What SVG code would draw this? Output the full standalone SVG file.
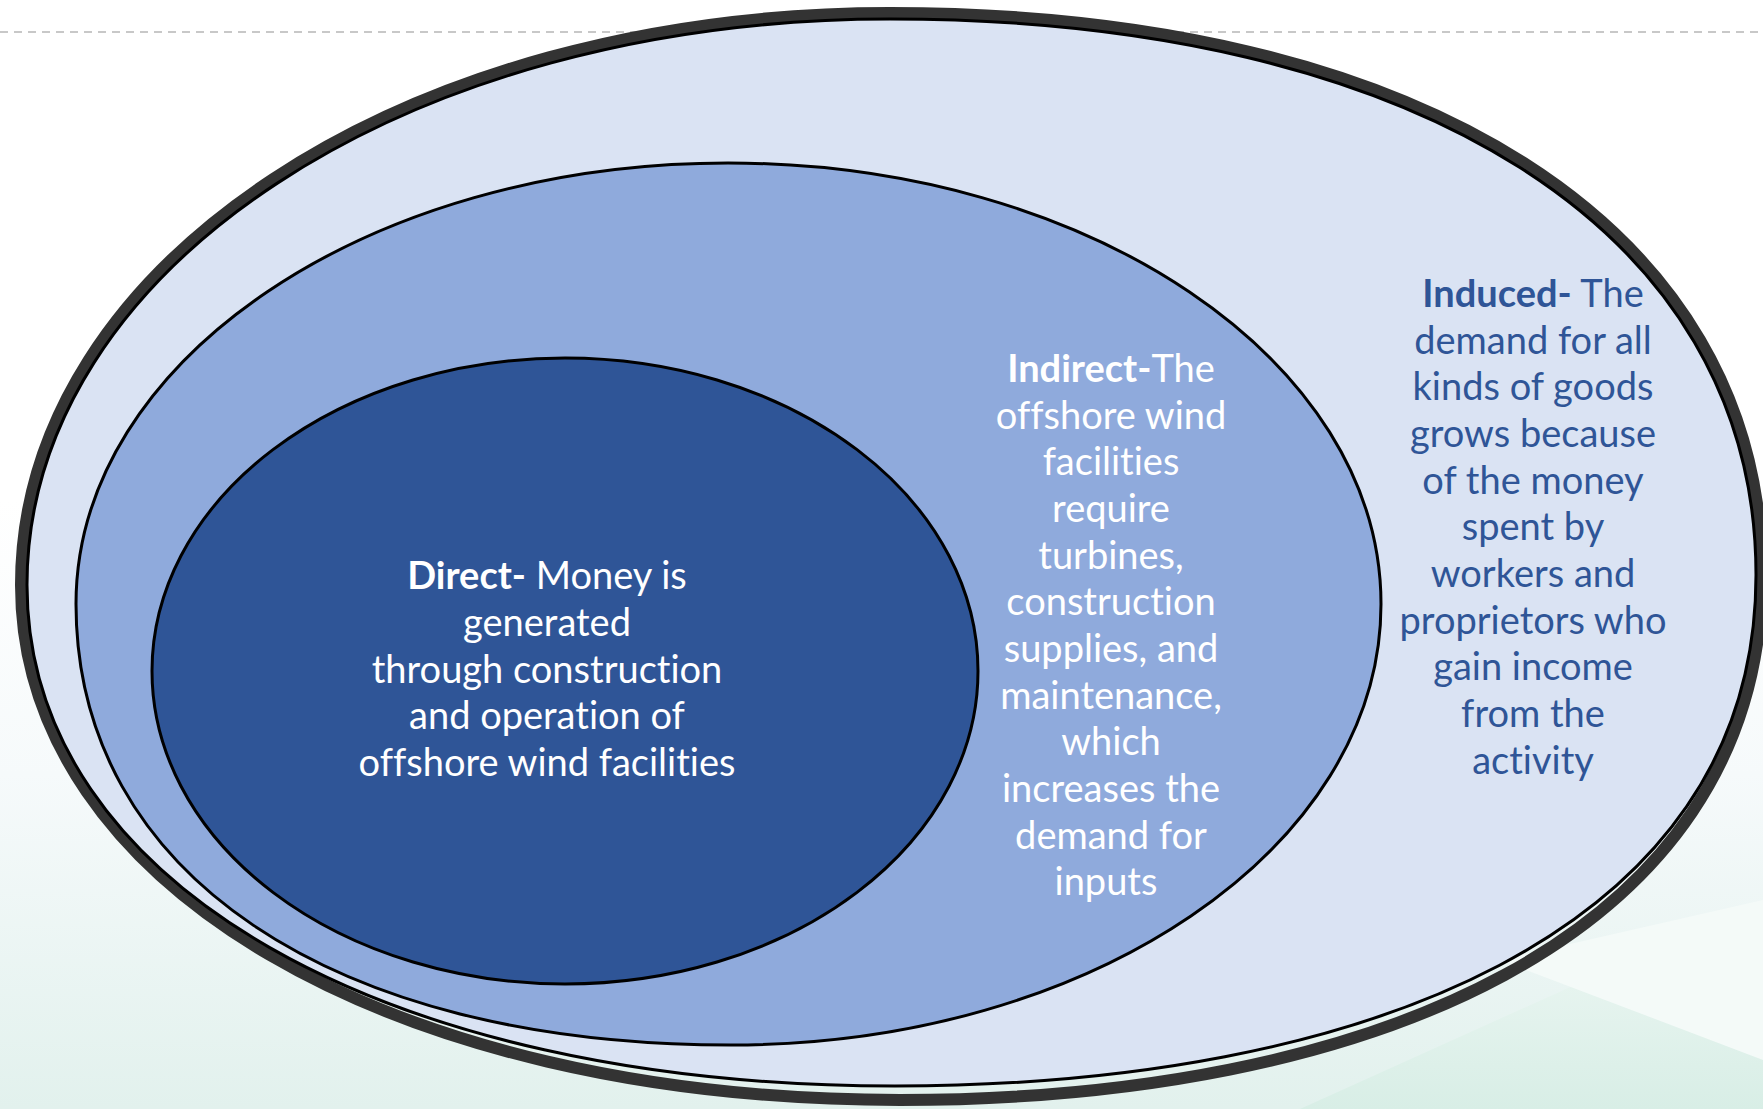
<svg xmlns="http://www.w3.org/2000/svg" width="1763" height="1109" viewBox="0 0 1763 1109">
<defs>
<linearGradient id="bgGrad" x1="0" y1="0" x2="0" y2="1">
<stop offset="0" stop-color="#ffffff"/>
<stop offset="0.45" stop-color="#f6fafb"/>
<stop offset="1" stop-color="#e2f1ed"/>
</linearGradient>
<linearGradient id="brGrad" x1="0" y1="0" x2="0" y2="1">
<stop offset="0" stop-color="#f0f8f5"/>
<stop offset="1" stop-color="#d8eee6"/>
</linearGradient>
<style>
.band{fill:none;stroke:#333333;stroke-width:12}
.ring{stroke:#000000;stroke-width:3}
.txt{font-family:Lato,"Open Sans","Liberation Sans",sans-serif;font-size:38px;text-anchor:middle;font-variant-ligatures:none;font-feature-settings:"liga" 0,"clig" 0}
.w{fill:#ffffff}
.b{fill:#2f5597}
.bold{font-weight:bold}
</style>
</defs>
<rect x="0" y="0" width="1763" height="1109" fill="#ffffff"/>
<rect x="0" y="500" width="1763" height="609" fill="url(#bgGrad)"/>
<polygon points="1300,1109 1763,900 1763,1109" fill="url(#brGrad)"/>
<polygon points="1500,960 1763,900 1763,1060" fill="#f4faf8"/>
<line x1="0" y1="32" x2="1763" y2="32" stroke="#c8c8c8" stroke-width="2" stroke-dasharray="8 6"/>

<g id="induced">
<path class="band" d="M21,585 C21,265 404,13 890,13 C1418,13 1762,226 1762,575 C1762,942 1362,1100 900,1100 C390,1100 21,884 21,585 Z"/>
<path class="ring" fill="#dae3f3" d="M27,585 C27,268 407,19 890,19 C1414,19 1756,229 1756,575 C1756,935 1358,1086 895,1086 C385,1086 27,884 27,585 Z"/>
<text class="txt b" x="1533"><tspan x="1533" y="307"><tspan class="bold">Induced-</tspan> The</tspan><tspan x="1533" y="354">demand for all</tspan><tspan x="1533" y="400">kinds of goods</tspan><tspan x="1533" y="447">grows because</tspan><tspan x="1533" y="494">of the money</tspan><tspan x="1533" y="540">spent by</tspan><tspan x="1533" y="587">workers and</tspan><tspan x="1533" y="634">proprietors who</tspan><tspan x="1533" y="680">gain income</tspan><tspan x="1533" y="727">from the</tspan><tspan x="1533" y="774">activity</tspan></text>
</g>

<g id="indirect">
<path class="ring" fill="#8faadc" d="M76,604 C76,360 368,163 728,163 C1088,163 1381,360 1381,604 C1381,848 1091,1045 731,1045 C331,1045 76,873 76,604 Z"/>
<text class="txt w" x="1111"><tspan x="1111" y="382"><tspan class="bold">Indirect-</tspan>The</tspan><tspan x="1111" y="429">offshore wind</tspan><tspan x="1111" y="475">facilities</tspan><tspan x="1111" y="522">require</tspan><tspan x="1111" y="569">turbines,</tspan><tspan x="1111" y="615">construction</tspan><tspan x="1111" y="662">supplies, and</tspan><tspan x="1111" y="709">maintenance,</tspan><tspan x="1111" y="755">which</tspan><tspan x="1111" y="802">increases the</tspan><tspan x="1111" y="849">demand for</tspan><tspan x="1106" y="895">inputs</tspan></text>
</g>

<g id="direct">
<ellipse class="ring" fill="#2f5597" cx="565" cy="671" rx="413" ry="313"/>
<text class="txt w" x="547"><tspan x="547" y="589"><tspan class="bold">Direct-</tspan> Money is</tspan><tspan x="547" y="636">generated</tspan><tspan x="547" y="683">through construction</tspan><tspan x="547" y="729">and operation of</tspan><tspan x="547" y="776">offshore wind facilities</tspan></text>
</g>

<g id="connectors"></g>
</svg>
